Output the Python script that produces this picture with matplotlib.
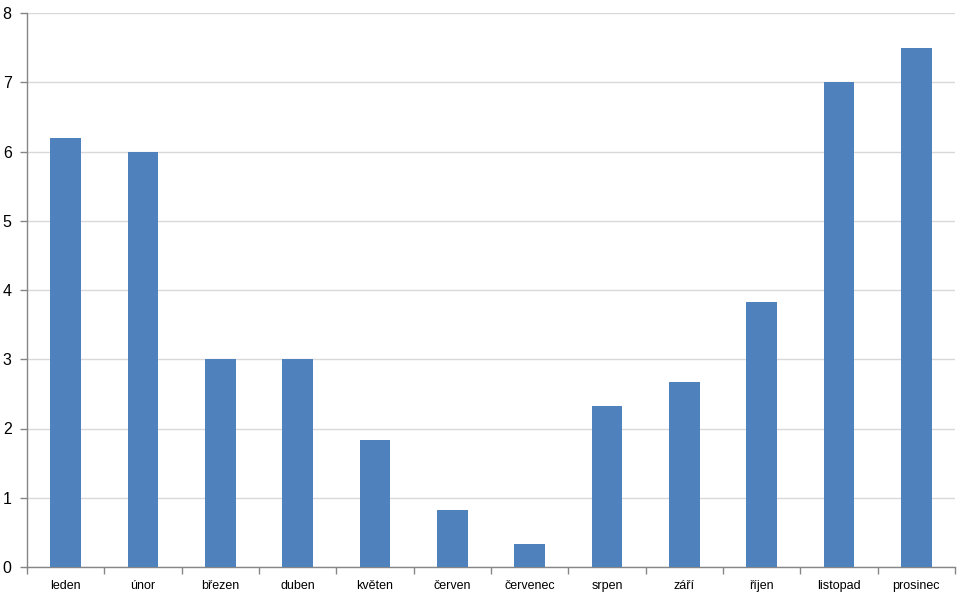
import matplotlib
matplotlib.use("Agg")
import matplotlib.pyplot as plt
import numpy as np

months = ["leden", "únor", "březen", "duben", "květen", "červen", "červenec",
          "srpen", "září", "říjen", "listopad", "prosinec"]
values = [6.2, 6.0, 3.0, 3.0, 1.83, 0.83, 0.33, 2.33, 2.67, 3.83, 7.0, 7.5]
yticks = [0, 1, 2, 3, 4, 5, 6, 7, 8]

plt.rcParams['font.family'] = ['Liberation Sans', 'DejaVu Sans']

fig = plt.figure(figsize=(9.62, 5.98), dpi=100)
ax = fig.add_axes([27/962, 31/598, (955-27)/962, (567-13)/598])

x = np.arange(len(months))
ax.bar(x, values, width=0.4, color="#4F81BD", zorder=3)

ax.set_xlim(-0.5, len(months) - 0.5)
ax.set_ylim(0, 8)
ax.set_yticks(yticks)
ax.set_yticklabels([str(t) for t in yticks], fontsize=11.5)
ax.yaxis.grid(True, color="#D9D9D9", linewidth=1, zorder=0)

ax.set_xticks(x)
ax.set_xticklabels(months, fontsize=9)
for lab in ax.get_xticklabels():
    lab.set_va('baseline')
ax.set_xticks(np.arange(-0.5, len(months)), minor=True)
ax.tick_params(axis='x', which='major', length=0, pad=15.5)
ax.tick_params(axis='x', which='minor', length=5, color="#868686", width=1)
ax.tick_params(axis='y', length=5, color="#868686", width=1, pad=6)

for s in ['top', 'right']:
    ax.spines[s].set_visible(False)
for s in ['left', 'bottom']:
    ax.spines[s].set_color("#868686")
    ax.spines[s].set_linewidth(1)

fig.savefig("out.png", dpi=100)
